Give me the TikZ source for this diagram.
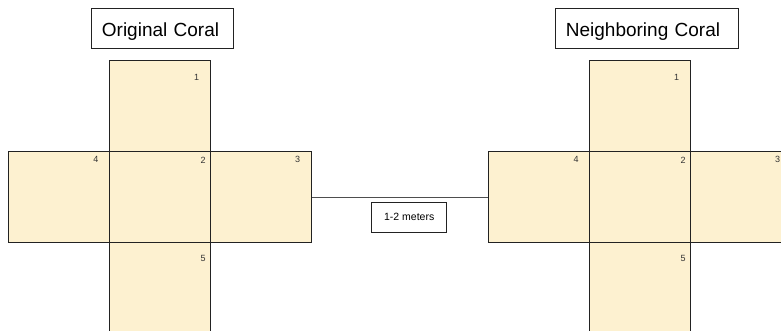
\documentclass[tikz,border=0pt]{standalone}
\usepackage{fontspec}
\setmainfont{Liberation Sans}
\definecolor{cellfill}{HTML}{FDF1D0}
\definecolor{edge}{HTML}{222222}
\tikzset{
  cell/.style={draw=edge, fill=cellfill, line width=0.8pt, minimum width=101pt,
    minimum height=91pt, inner sep=0pt, anchor=north west},
  cellno/.style={font=\fontsize{9}{10}\selectfont, text=black!80, inner sep=0pt},
  titlebox/.style={draw=edge, line width=0.8pt, minimum height=40pt, inner ysep=0pt,
    inner xsep=10.5pt, align=left, anchor=west, text height=20pt, text depth=3.2pt,
    font=\fontsize{19}{22}\selectfont},
  tagbox/.style={draw=edge, line width=0.8pt, minimum width=75pt, minimum height=30pt,
    inner sep=0pt, font=\fontsize{10.5}{12}\selectfont},
  link/.style={draw=edge!80, line width=0.8pt}
}
% one cross of five cells; #1 = name prefix, #2 = horizontal offset
\newcommand{\coralcross}[2]{%
  \begin{scope}[xshift=#2]
    \node[cell] (#1c1) at (109,60) {};
    \node[cell] (#1c4) at (8,151) {};
    \node[cell] (#1c2) at (109,151) {};
    \node[cell] (#1c3) at (210,151) {};
    \node[cell] (#1c5) at (109,242) {};
    \node[cellno] (#1n1) at (196.5,77) {1};
    \node[cellno] (#1n2) at (203,160) {2};
    \node[cellno] (#1n3) at (297.5,159.5) {3};
    \node[cellno] (#1n4) at (96,159.5) {4};
    \node[cellno] (#1n5) at (203,258) {5};
  \end{scope}}
\begin{document}
\begin{tikzpicture}[x=1pt, y=-1pt]
  \useasboundingbox (0,0) rectangle (781,331);
  \clip (0,0) rectangle (781,331);
  \coralcross{L}{0pt}
  \coralcross{R}{480pt}
  \node[titlebox, text width=121pt] (ltitle) at (91,28.3) {Original Coral};
  \node[titlebox, text width=161.5pt] (rtitle) at (555,28.3) {Neighboring Coral};
  \draw[link] (Lc3.east) -- (Rc4.west);
  \node[tagbox] (dist) at (409.2,217.3) {1-2 meters};
\end{tikzpicture}
\end{document}
